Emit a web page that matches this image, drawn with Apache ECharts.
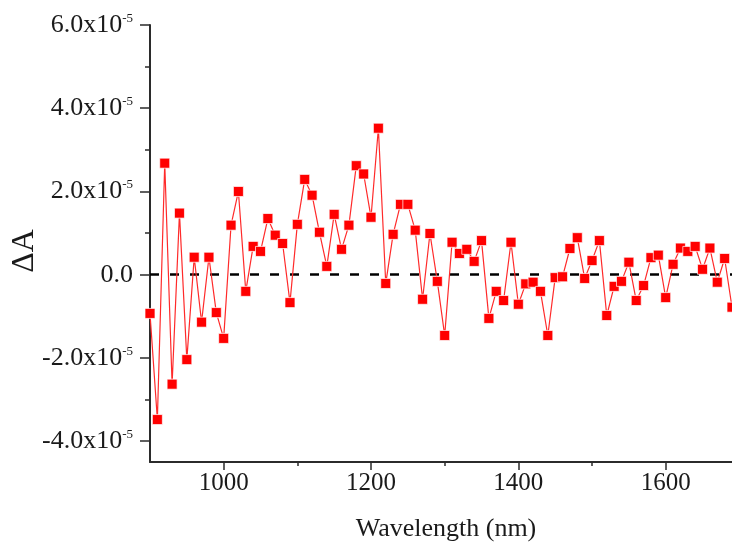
<!DOCTYPE html>
<html>
<head>
<meta charset="utf-8">
<script src="https://cdn.jsdelivr.net/npm/echarts@6/dist/echarts.min.js"></script>
<style>
html,body{margin:0;padding:0;background:#fff;}
#chart{width:732px;height:552px;}
</style>
</head>
<body>
<div id="chart"></div>
<script>
// Wavelength (nm)
const wavelengths = [
  900, 910, 920, 930, 940, 950, 960, 970, 980, 990,
  1000, 1010, 1020, 1030, 1040, 1050, 1060, 1070, 1080, 1090,
  1100, 1110, 1120, 1130, 1140, 1150, 1160, 1170, 1180, 1190,
  1200, 1210, 1220, 1230, 1240, 1250, 1260, 1270, 1280, 1290,
  1300, 1310, 1320, 1330, 1340, 1350, 1360, 1370, 1380, 1390,
  1400, 1410, 1420, 1430, 1440, 1450, 1460, 1470, 1480, 1490,
  1500, 1510, 1520, 1530, 1540, 1550, 1560, 1570, 1580, 1590,
  1600, 1610, 1620, 1630, 1640, 1650, 1660, 1670, 1680, 1690
];
// ΔA in units of 1e-5
const deltaA = [
  -0.93, -3.48, 2.68, -2.63, 1.48, -2.04, 0.42, -1.14, 0.42, -0.91,
  -1.53, 1.19, 2.00, -0.40, 0.68, 0.56, 1.35, 0.95, 0.75, -0.67,
  1.21, 2.29, 1.91, 1.02, 0.20, 1.45, 0.61, 1.19, 2.62, 2.42,
  1.38, 3.52, -0.21, 0.97, 1.69, 1.69, 1.07, -0.59, 0.99, -0.16,
  -1.46, 0.78, 0.51, 0.61, 0.32, 0.82, -1.05, -0.40, -0.62, 0.78,
  -0.71, -0.22, -0.18, -0.40, -1.46, -0.07, -0.05, 0.63, 0.89, -0.09,
  0.34, 0.82, -0.98, -0.28, -0.16, 0.30, -0.62, -0.26, 0.41, 0.47,
  -0.55, 0.25, 0.64, 0.56, 0.68, 0.13, 0.64, -0.18, 0.39, -0.78
];
const xTickLabels = [1000, 1200, 1400, 1600];
const yTickLabels = [-4, -2, 0, 2, 4, 6];
const yExponent = '-5';

const FONT = '"Liberation Serif", "Times New Roman", serif';
const AX = '#2b2b2b';
const TXT = '#1a1a1a';

const chart = echarts.init(document.getElementById('chart'), null, {renderer: 'canvas'});

const pxPerUnit = (462 - 25) / 10.5;
const yMinus4 = 25 + 10 * pxPerUnit;
const pxPerNm = 582 / 790;

const hiddenAxis = {
  show: false, type: 'value',
  axisLine: {show: false, onZero: false}, axisTick: {show: false},
  axisLabel: {show: false}, splitLine: {show: false}
};

chart.setOption({
  animation: false,
  backgroundColor: '#fff',
  grid: [
    {left: 150, right: 0, top: 25, bottom: 90, outerBoundsMode: 'none', containLabel: false},
    {left: 150, right: 0, top: 25, bottom: 552 - yMinus4, outerBoundsMode: 'none', containLabel: false},
    {left: 150 + 100 * pxPerNm, right: -(110 * pxPerNm), top: 25, bottom: 90, outerBoundsMode: 'none', containLabel: false}
  ],
  xAxis: [
    {
      gridIndex: 0, type: 'value', min: 900, max: 1690,
      axisLine: {show: true, onZero: false, lineStyle: {color: AX, width: 2}},
      axisTick: {show: false}, axisLabel: {show: false},
      splitLine: {show: false}
    },
    Object.assign({}, hiddenAxis, {gridIndex: 1, min: 0, max: 1}),
    {
      gridIndex: 2, type: 'value', min: 1000, max: 1800, interval: 200,
      axisLine: {show: false, onZero: false},
      axisTick: {show: true, inside: false, length: 8, lineStyle: {color: AX, width: 1.5}},
      minorTick: {show: true, splitNumber: 2, length: 4, lineStyle: {color: AX, width: 1.5}},
      axisLabel: {
        show: true, margin: 9, color: TXT, fontFamily: FONT, fontSize: 25,
        formatter: v => xTickLabels.indexOf(v) >= 0 ? String(v) : ''
      },
      splitLine: {show: false}, minorSplitLine: {show: false}
    }
  ],
  yAxis: [
    {
      gridIndex: 0, type: 'value', min: -4.5, max: 6,
      axisLine: {show: true, onZero: false, lineStyle: {color: AX, width: 2}},
      axisTick: {show: false}, axisLabel: {show: false},
      splitLine: {show: false}
    },
    {
      gridIndex: 1, type: 'value', min: -4, max: 6, interval: 2,
      axisLine: {show: false, onZero: false},
      axisTick: {show: true, inside: false, length: 10, lineStyle: {color: AX, width: 1.5}},
      minorTick: {show: true, splitNumber: 2, length: 5, lineStyle: {color: AX, width: 1.5}},
      axisLabel: {
        show: true, margin: 17, color: TXT,
        formatter: v => {
          if (yTickLabels.indexOf(v) < 0) return '';
          if (v === 0) return '{z|0.0}';
          return '{b|' + v.toFixed(1) + 'x10}{s|' + yExponent + '}';
        },
        rich: {
          z: {fontFamily: FONT, fontSize: 26, lineHeight: 26, color: TXT},
          b: {fontFamily: FONT, fontSize: 26, lineHeight: 26, color: TXT, verticalAlign: 'bottom'},
          s: {fontFamily: FONT, fontSize: 13, lineHeight: 13, color: TXT, verticalAlign: 'top', padding: [0, 0, 18, 0]}
        }
      },
      splitLine: {show: false}, minorSplitLine: {show: false}
    },
    Object.assign({}, hiddenAxis, {gridIndex: 2, min: 0, max: 1})
  ],
  series: [
    {
      type: 'line',
      xAxisIndex: 0, yAxisIndex: 0,
      data: wavelengths.map((w, i) => [w, deltaA[i]]),
      symbol: 'rect', symbolSize: 10, showAllSymbol: true,
      lineStyle: {color: '#ff2a2a', width: 1.2},
      itemStyle: {color: '#ff0000', borderColor: 'rgba(255,255,255,0.7)', borderWidth: 1},
      clip: true,
      z: 3,
      markLine: {
        silent: true, symbol: ['none', 'none'], animation: false,
        label: {show: false},
        lineStyle: {color: '#000', width: 2.5, type: [9, 11]},
        data: [{yAxis: 0}],
        z: 2
      }
    }
  ],
  graphic: [
    {type: 'text', x: 446, y: 529, style: {text: 'Wavelength (nm)', font: '26px ' + FONT, fill: TXT, align: 'center', verticalAlign: 'middle'}},
    {type: 'text', x: 25, y: 251, rotation: Math.PI / 2, style: {text: 'ΔA', font: '32px ' + FONT, fill: TXT, align: 'center', verticalAlign: 'middle'}}
  ]
});
</script>
</body>
</html>
